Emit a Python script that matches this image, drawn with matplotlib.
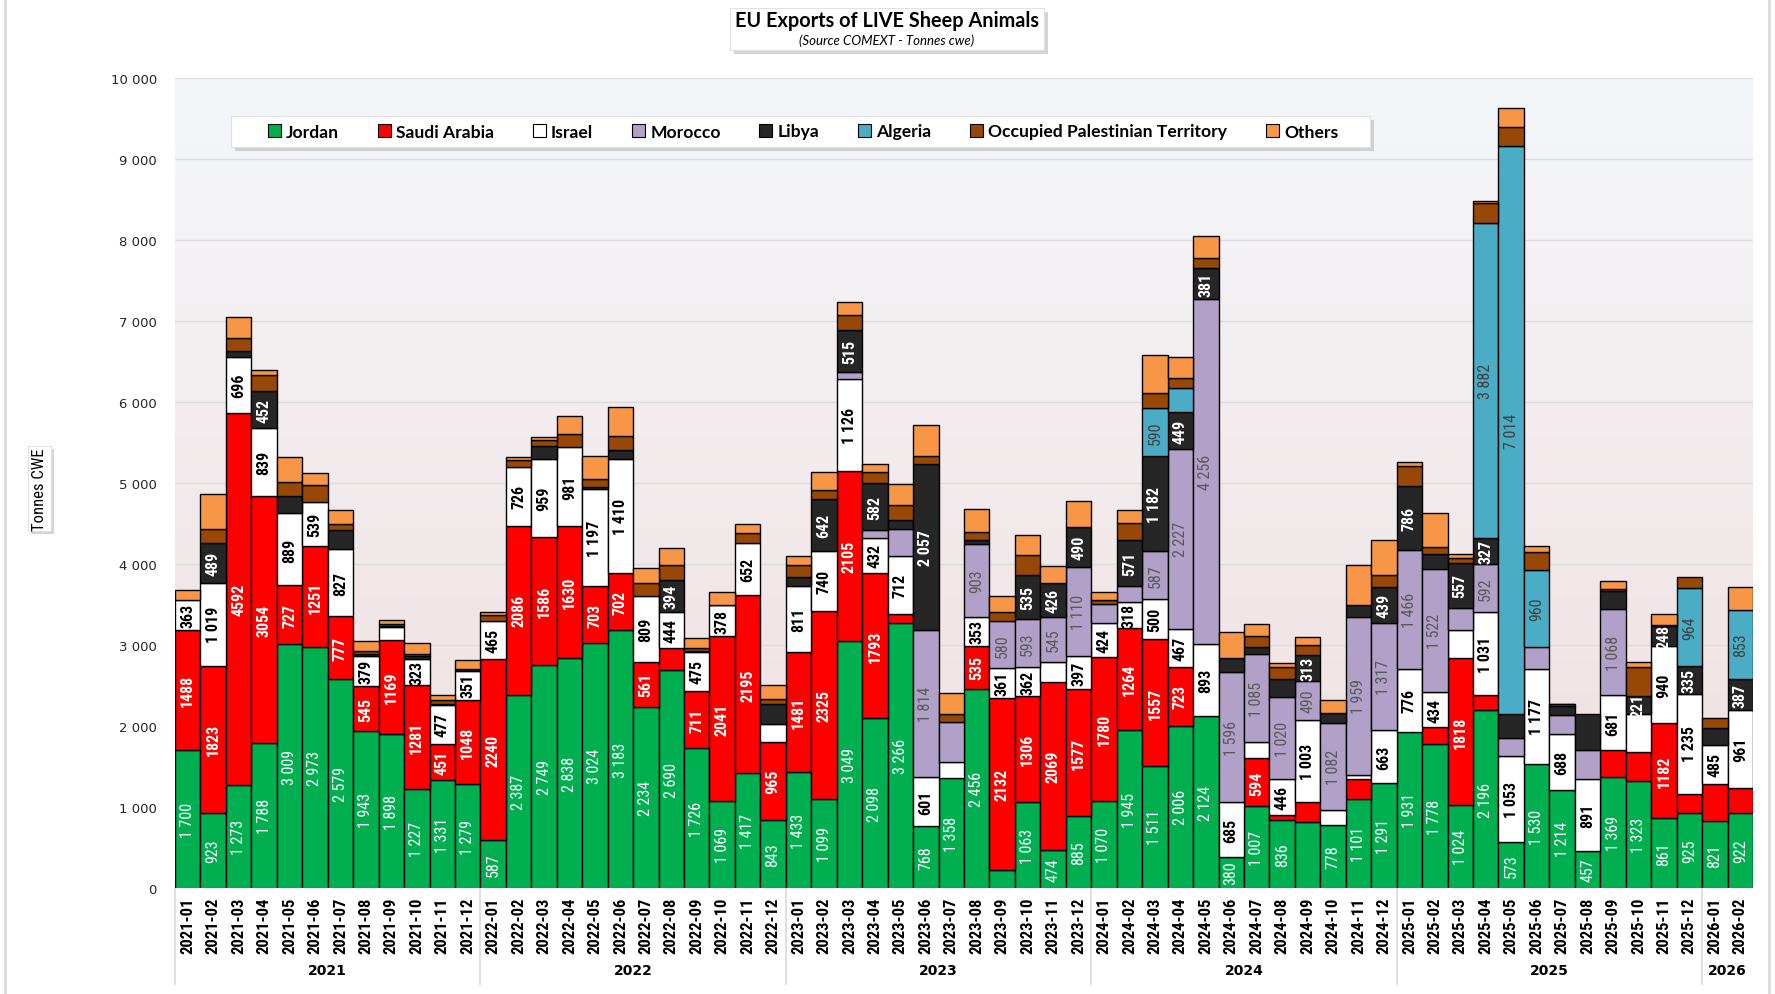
import matplotlib
matplotlib.use("Agg")
import matplotlib.pyplot as plt
import numpy as np
from matplotlib import font_manager as fm
from matplotlib.font_manager import FontProperties
from matplotlib.patches import Rectangle, Patch
from matplotlib.colors import to_rgb
import matplotlib.transforms as mtransforms

# ---------------- data ----------------
months = [
    "2021-01", "2021-02", "2021-03", "2021-04", "2021-05", "2021-06", "2021-07", "2021-08", "2021-09", "2021-10", "2021-11", "2021-12",
    "2022-01", "2022-02", "2022-03", "2022-04", "2022-05", "2022-06", "2022-07", "2022-08", "2022-09", "2022-10", "2022-11", "2022-12",
    "2023-01", "2023-02", "2023-03", "2023-04", "2023-05", "2023-06", "2023-07", "2023-08", "2023-09", "2023-10", "2023-11", "2023-12",
    "2024-01", "2024-02", "2024-03", "2024-04", "2024-05", "2024-06", "2024-07", "2024-08", "2024-09", "2024-10", "2024-11", "2024-12",
    "2025-01", "2025-02", "2025-03", "2025-04", "2025-05", "2025-06", "2025-07", "2025-08", "2025-09", "2025-10", "2025-11", "2025-12",
    "2026-01", "2026-02",
]
years = ["2021", "2022", "2023", "2024", "2025", "2026"]

jordan = [1700, 923, 1273, 1788, 3009, 2973, 2579, 1943, 1898, 1227, 1331, 1279,
          587, 2387, 2749, 2838, 3024, 3183, 2234, 2690, 1726, 1069, 1417, 843,
          1433, 1099, 3049, 2098, 3266, 768, 1358, 2456, 219, 1063, 474, 885,
          1070, 1945, 1511, 2006, 2124, 380, 1007, 836, 810, 778, 1101, 1291,
          1931, 1778, 1024, 2196, 573, 1530, 1214, 457, 1369, 1323, 861, 925,
          821, 922]
saudi = [1488, 1823, 4592, 3054, 727, 1251, 777, 545, 1169, 1281, 451, 1048,
         2240, 2086, 1586, 1630, 703, 702, 561, 279, 711, 2041, 2195, 965,
         1481, 2325, 2105, 1793, 115, 0, 0, 535, 2132, 1306, 2069, 1577,
         1780, 1264, 1557, 723, 0, 0, 594, 60, 257, 0, 246, 0,
         0, 208, 1818, 181, 0, 0, 0, 0, 329, 356, 1182, 241,
         465, 312]
israel = [363, 1019, 696, 839, 889, 539, 827, 379, 153, 323, 477, 351,
          465, 726, 959, 981, 1197, 1410, 809, 444, 475, 378, 652, 219,
          811, 740, 1126, 432, 712, 601, 197, 353, 361, 362, 252, 397,
          424, 318, 500, 467, 893, 685, 197, 446, 1003, 181, 44, 663,
          776, 434, 340, 1031, 1053, 1177, 688, 891, 681, 465, 940, 1235,
          485, 961]
morocco = [0, 0, 0, 0, 0, 0, 0, 0, 0, 0, 0, 0,
           0, 0, 0, 0, 0, 0, 0, 0, 0, 0, 0, 0,
           0, 0, 93, 93, 340, 1814, 498, 903, 580, 593, 545, 1110,
           230, 203, 587, 2227, 4256, 1596, 1085, 1020, 490, 1082, 1959, 1317,
           1466, 1522, 279, 592, 225, 263, 235, 361, 1068, 0, 0, 0,
           0, 0]
libya = [0, 489, 65, 452, 219, 0, 235, 20, 16, 30, 15, 20,
         0, 0, 164, 0, 22, 115, 0, 394, 20, 0, 0, 241,
         120, 642, 515, 582, 115, 2057, 0, 44, 0, 535, 426, 490,
         0, 571, 1182, 449, 381, 175, 93, 214, 313, 120, 142, 439,
         786, 181, 557, 327, 296, 0, 110, 438, 225, 221, 248, 335,
         208, 387]
algeria = [0, 0, 0, 0, 0, 0, 0, 0, 0, 0, 0, 0,
           0, 0, 0, 0, 0, 0, 0, 0, 0, 0, 0, 0,
           0, 0, 0, 0, 0, 0, 0, 0, 0, 0, 0, 0,
           0, 0, 590, 307, 0, 0, 0, 0, 0, 0, 0, 0,
           0, 0, 0, 3882, 7014, 960, 0, 0, 0, 0, 0, 964,
           0, 853]
palestine = [0, 180, 170, 197, 164, 208, 71, 33, 20, 30, 50, 10,
             82, 88, 77, 153, 99, 170, 164, 175, 30, 10, 120, 66,
             142, 110, 181, 142, 181, 93, 99, 99, 115, 246, 0, 0,
             55, 203, 181, 115, 124, 0, 137, 153, 131, 0, 0, 153,
             257, 82, 55, 243, 231, 219, 20, 0, 15, 367, 22, 137,
             115, 0]
others = [125, 430, 257, 71, 307, 148, 181, 126, 50, 137, 55, 110,
          33, 38, 38, 219, 290, 356, 181, 214, 130, 160, 110, 175,
          115, 214, 170, 99, 263, 383, 257, 285, 197, 257, 214, 318,
          99, 159, 476, 263, 272, 329, 148, 44, 99, 164, 493, 433,
          38, 427, 55, 29, 235, 77, 10, 0, 99, 55, 131, 0,
          0, 285]

series_names = ["Jordan", "Saudi Arabia", "Israel", "Morocco", "Libya", "Algeria",
                "Occupied Palestinian Territory", "Others"]
series_values = [jordan, saudi, israel, morocco, libya, algeria, palestine, others]
series_colors = ["#00B050", "#FF0000", "#FFFFFF", "#B1A0C7", "#262626", "#4BACC6",
                 "#974706", "#F79646"]

# data labels: shown for segments >= 200 except those listed here
label_min = 200
hidden_labels = {
    "Jordan": ["2023-09", "2024-09"],
    "Saudi Arabia": ["2022-08", "2024-09", "2024-11", "2025-02", "2025-09", "2025-10",
                     "2025-12", "2026-01", "2026-02"],
    "Israel": ["2022-12", "2023-11", "2025-03", "2025-10"],
    "Morocco": ["2023-05", "2023-07", "2024-01", "2024-02", "2025-03", "2025-05",
                "2025-06", "2025-07", "2025-08"],
    "Libya": ["2021-05", "2021-07", "2022-12", "2024-08", "2025-05", "2025-08",
              "2025-09", "2026-01"],
    "Algeria": ["2024-04"],
    "Occupied Palestinian Territory": months,
    "Others": months,
}
label_style = {
    "Jordan": dict(color="white", weight="normal"),
    "Saudi Arabia": dict(color="white", weight="bold"),
    "Israel": dict(color="black", weight="bold"),
    "Morocco": dict(color="#595959", weight="normal"),
    "Libya": dict(color="white", weight="bold"),
    "Algeria": dict(color="#404040", weight="normal"),
}

# ---------------- fonts ----------------
def _w(f):
    w = f.weight
    if isinstance(w, str):
        w = {"normal": 400, "regular": 400, "book": 400, "medium": 500, "semibold": 600,
             "demibold": 600, "bold": 700, "heavy": 800, "black": 900, "light": 300}.get(w.lower(), 400)
    return w

def find_narrow():
    prefs = ["Liberation Sans Narrow", "Arial Narrow", "Roboto Condensed", "Open Sans Condensed",
             "Noto Sans Condensed", "DejaVu Sans Condensed", "Noto Sans", "Open Sans",
             "DejaVu Sans", "Roboto", "Lato"]
    cands = []
    for f in fm.fontManager.ttflist:
        st = str(f.stretch)
        nm = f.name
        fname = f.fname.lower()
        narrow = ("narrow" in nm.lower() or "condensed" in nm.lower() or
                  st in ("condensed", "semi-condensed", "extra-condensed") or
                  ("condensed" in fname and "semi" not in fname and "extra" not in fname))
        if narrow and f.style == "normal":
            cands.append(f)
    best = None
    for p in prefs:
        grp = [f for f in cands if f.name == p or f.name.startswith(p)]
        if grp:
            best = grp
            break
    if best is None and cands:
        nm0 = cands[0].name
        best = [f for f in cands if f.name == nm0]
    if not best:
        return None, None, None
    reg = min(best, key=lambda f: abs(_w(f) - 400))
    bold = min(best, key=lambda f: abs(_w(f) - 700))
    return reg.fname, bold.fname, reg.name

reg_file, bold_file, narrow_name = find_narrow()
if reg_file:
    scale = 1.0 if "Narrow" in narrow_name else 0.92
    def NF(size, bold=False):
        return FontProperties(fname=bold_file if bold else reg_file, size=size * scale)
else:
    def NF(size, bold=False):
        return FontProperties(family="DejaVu Sans", weight="bold" if bold else "normal",
                              size=size * 0.72)

names = {f.name for f in fm.fontManager.ttflist}
TITLEF = "Lato" if "Lato" in names else "DejaVu Sans"

W, H = 1775, 995
def fx(px):
    return px / W
def fy(py):
    return 1 - py / H

fig = plt.figure(figsize=(W / 100, H / 100), dpi=100)
fig.patch.set_facecolor("white")

ax_l, ax_r, ax_t, ax_b = 175, 1753, 79, 889
ax = fig.add_axes([fx(ax_l), fy(ax_b), fx(ax_r - ax_l), (ax_b - ax_t) / H])

n = len(months)
x = np.arange(n)
ax.set_xlim(-0.5, n - 0.5)
ax.set_ylim(0, 10000)

# background gradient
top_c = np.array(to_rgb("#F4F7FA"))
bot_c = np.array(to_rgb("#F0DEDE"))
g = np.linspace(0, 1, 256).reshape(-1, 1, 1)
img = bot_c + (top_c - bot_c) * g
ax.imshow(img, extent=(-0.5, n - 0.5, 0, 10000), origin="lower", aspect="auto", zorder=0)

yt = np.arange(0, 10001, 1000)
for v in yt[1:]:
    ax.axhline(v, color="#DCDCDC", lw=1.0, zorder=1)

bottom = np.zeros(n)
for name, vals, col in zip(series_names, series_values, series_colors):
    v = np.array(vals, dtype=float)
    m = v > 0
    ax.bar(x[m], v[m], width=1.0, bottom=bottom[m], color=col, edgecolor="black",
           linewidth=1.0, zorder=3)
    if name in label_style:
        st = label_style[name]
        for i in range(n):
            if v[i] >= label_min and months[i] not in hidden_labels.get(name, []):
                if name == "Saudi Arabia":
                    txt = f"{int(v[i])}"
                else:
                    txt = f"{int(v[i]):,}".replace(",", " ")
                ax.text(x[i], bottom[i] + v[i] / 2, txt, rotation=90, ha="center",
                        va="center", color=st["color"],
                        fontproperties=NF(12.5, st["weight"] == "bold"), zorder=5)
    bottom += v

for s in ax.spines.values():
    s.set_visible(False)
ax.axhline(0, color="#BFBFBF", lw=1.0, zorder=4)

ax.set_yticks(yt)
ax.set_yticklabels([f"{int(v):,}".replace(",", " ") for v in yt], family="DejaVu Sans",
                   fontsize=9.5, color="#262626")
ax.set_xticks(x)
ax.set_xticklabels(months, rotation=90, fontproperties=NF(13, True), color="black")
ax.tick_params(axis="y", length=0, pad=13)
ax.tick_params(axis="x", length=0, pad=6)

# year separators and labels
trans = mtransforms.blended_transform_factory(ax.transData, ax.transAxes)
sep_bottom = (ax_b - 985) / (ax_b - ax_t)
boundaries = [-0.5]
counts = {}
for mth in months:
    counts[mth[:4]] = counts.get(mth[:4], 0) + 1
start = 0
for yr in years:
    c = counts[yr]
    center = start + (c - 1) / 2
    ax.text(center, (ax_b - 971) / (ax_b - ax_t), yr, transform=trans, ha="center",
            va="center", fontsize=10, fontweight="bold", family="DejaVu Sans")
    start += c
    if start < n:
        boundaries.append(start - 0.5)
for b in boundaries:
    ax.plot([b, b], [0, sep_bottom], transform=trans, color="#D9D9D9", lw=1.2,
            clip_on=False, zorder=2)

# outer frame
fig.add_artist(Rectangle((fx(5), fy(1000)), fx(1764), 1003 / H, transform=fig.transFigure,
                         fill=False, ec="#DADADA", lw=2))

def shadow_box(x0, y0, x1, y1, off=4):
    fig.add_artist(Rectangle((fx(x0 + off), fy(y1 + off)), fx(x1 - x0), (y1 - y0) / H,
                             transform=fig.transFigure, fc="#B8B8B8", ec="none", alpha=0.6))
    fig.add_artist(Rectangle((fx(x0), fy(y1)), fx(x1 - x0), (y1 - y0) / H,
                             transform=fig.transFigure, fc="white", ec="#E2E2E2", lw=0.8))

# title box
shadow_box(730, 9, 1044, 51)
fig.text(fx(887), fy(21), "EU Exports of LIVE Sheep Animals", ha="center", va="center",
         fontsize=14.3, fontweight="bold", family=TITLEF)
fig.text(fx(887), fy(41), "(Source COMEXT - Tonnes cwe)", ha="center", va="center",
         fontsize=9.5, style="italic", family=TITLEF)

# y label box
shadow_box(28, 447, 51, 532, off=3)
fig.text(fx(40), fy(489.5), "Tonnes CWE", rotation=90, ha="center", va="center",
         fontproperties=NF(13))

# legend
shadow_box(231, 117, 1370, 148)
handles = [Patch(facecolor=c, edgecolor="black", linewidth=0.8) for c in series_colors]
fig.legend(handles, series_names, loc="center", bbox_to_anchor=(fx(803), fy(132.5)),
           ncol=8, frameon=False, prop=dict(family=TITLEF, weight="bold", size=12.6),
           handlelength=0.75, handleheight=0.75, handletextpad=0.3, columnspacing=2.2)

fig.savefig("out.png", dpi=100)
